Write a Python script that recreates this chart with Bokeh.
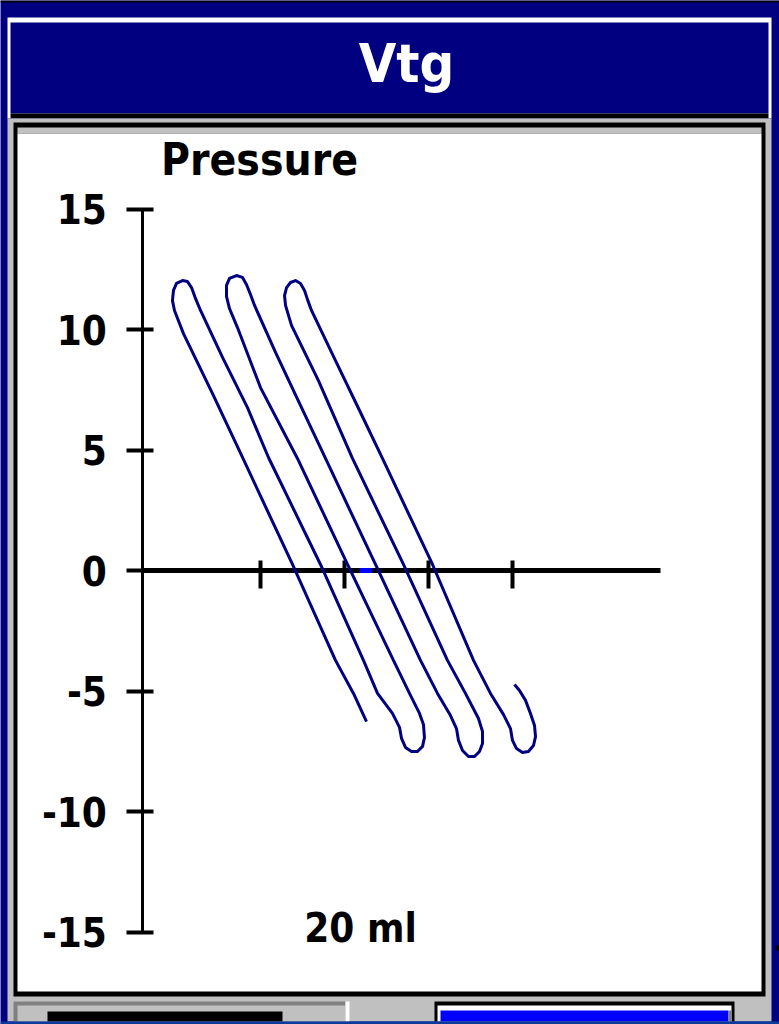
from bokeh.plotting import figure
from bokeh.models import Range1d, LinearAxis, FixedTicker, Label
from bokeh.embed import file_html
from bokeh.resources import INLINE

# ---------------------------------------------------------------
# Pressure / volume trace of the oscillator (volume in ml, pressure)
# ---------------------------------------------------------------
volume_ml = [
    22.62, 21.07, 18.93, 13.81, 7.86, 4.29, 0.83, -0.24,
    -0.48, -0.36, 0.00, 0.71, 1.31, 1.79, 2.26,
    2.86, 5.48, 8.45, 10.95, 17.14, 22.26, 23.93, 25.71,
    26.55, 26.79, 27.26, 27.98, 28.69, 29.29, 29.52, 29.40,
    28.93, 27.74, 25.83, 20.36, 14.40, 10.00, 7.26, 6.31,
    5.95, 5.95, 6.31, 7.14, 7.86, 8.33, 8.81,
    9.29, 11.79, 14.76, 17.74, 23.69, 29.05, 31.07, 32.62,
    33.33, 33.57, 34.05, 34.76, 35.48, 36.07, 36.43, 36.43,
    35.95, 34.40, 32.26, 27.02, 20.95, 16.90, 13.69,
    12.98, 12.86, 13.10, 13.57, 14.17, 14.76, 15.24, 15.60,
    16.07, 18.93, 21.79, 24.52, 30.48, 35.36, 37.38, 38.93,
    39.76, 40.00, 40.48, 41.19, 41.90, 42.50, 42.74, 42.62,
    42.14, 41.55, 40.83, 40.24,
]
pressure = [
    -6.27, -5.10, -3.73, 0.25, 4.69, 7.34, 9.83, 10.79,
    11.20, 11.62, 11.91, 12.03, 11.99, 11.74, 11.29,
    10.79, 8.84, 6.76, 4.69, 0.25, -3.73, -5.10, -5.93,
    -6.51, -6.97, -7.34, -7.51, -7.51, -7.30, -6.93, -6.39,
    -5.93, -5.10, -3.73, 0.25, 4.65, 7.59, 10.08, 10.87,
    11.37, 11.83, 12.12, 12.24, 12.16, 11.87, 11.45,
    11.00, 9.05, 6.85, 4.65, 0.25, -3.73, -5.10, -6.02,
    -6.56, -7.05, -7.47, -7.72, -7.72, -7.51, -7.18, -6.68,
    -6.14, -5.10, -3.73, 0.25, 4.65, 7.88, 10.17,
    11.00, 11.41, 11.74, 11.95, 12.03, 11.91, 11.62, 11.24,
    10.79, 8.71, 6.64, 4.65, 0.25, -3.73, -5.10, -5.98,
    -6.56, -7.05, -7.39, -7.55, -7.51, -7.26, -6.89, -6.43,
    -5.93, -5.39, -4.98, -4.73,
]

pressure_ticks = [-15, -10, -5, 0, 5, 10, 15]
volume_ticks = [10, 20, 30, 40]
cursor_volume = [21.8, 23.3]      # current-volume marker on the zero line

title_text = "Vtg"
pressure_label = "Pressure"
scale_label = "20 ml"

# ---------------------------------------------------------------
# Page geometry (pixels) and styling
# ---------------------------------------------------------------
W, H = 779, 1024
NAVY = "#000080"
SILVER = "#C0C0C0"
SHADOW = "#808080"
FONT = "'DejaVu Sans Condensed', 'DejaVu Sans', sans-serif"

# placement of the pressure/volume coordinate system on the page
VOL_ZERO_PX, PX_PER_ML = 176.0, 8.4
PRES_ZERO_PX, PX_PER_UNIT = 570.0, 24.1
Y_AXIS_AT_ML = -4
X_AXIS_END_ML = 57.6

p = figure(
    width=W, height=H,
    x_range=Range1d(0, W), y_range=Range1d(H, 0),
    x_axis_location=None, y_axis_location=None,
    toolbar_location=None, output_backend="svg",
    min_border=0, outline_line_color=None,
    background_fill_color=NAVY, border_fill_color=NAVY,
)
p.xgrid.visible = False
p.ygrid.visible = False

p.extra_x_ranges = {"vol": Range1d(-VOL_ZERO_PX / PX_PER_ML, (W - VOL_ZERO_PX) / PX_PER_ML)}
p.extra_y_ranges = {"pres": Range1d((PRES_ZERO_PX - H) / PX_PER_UNIT, PRES_ZERO_PX / PX_PER_UNIT)}

# ---- window chrome: (left, right, top, bottom, colour) in page pixels
chrome = [
    (0, 779, 0, 2, "black"),
    (7, 771, 17, 118, "white"),          # title bar highlight
    (10, 768, 22, 113, NAVY),            # title bar
    (10, 768, 113, 118, "black"),
    (7, 771, 118, 1021, SILVER),         # panel
    (13, 765, 122, 996, "black"),        # plot frame
    (17, 761, 127, 133, SILVER),
    (17, 761, 133, 991, "white"),        # plot area
    (13, 345, 1001, 1021, SHADOW),       # left status box
    (17, 345, 1005, 1021, SILVER),
    (345, 349, 1001, 1021, "white"),
    (47, 282, 1011, 1021, "black"),
    (434, 734, 1001, 1021, "black"),     # right status box
    (437, 731, 1005, 1021, "white"),
    (440, 728, 1010, 1021, "#0000FF"),
    (728, 731, 1010, 1021, SHADOW),
    (0, 779, 1021, 1024, "#0A3A9C"),
    (775, 779, 945, 950, "black"),
]
for left, right, top, bottom, color in chrome:
    r = p.quad(left=left, right=right, top=top, bottom=bottom,
               fill_color=color, line_color=None)
    r.level = "image"

# ---- axes crossing at the origin of the pressure scale
axis_style = dict(
    axis_line_color="black",
    major_tick_line_color="black",
    major_tick_line_width=4,
    minor_tick_line_color=None,
)

yax = LinearAxis(
    x_range_name="vol", y_range_name="pres",
    fixed_location=Y_AXIS_AT_ML, bounds=(pressure_ticks[0], pressure_ticks[-1]),
    ticker=FixedTicker(ticks=pressure_ticks),
    axis_line_width=3, major_tick_out=16, major_tick_in=11,
    major_label_standoff=20,
    major_label_overrides={t: str(t) for t in pressure_ticks},
    major_label_text_font=FONT, major_label_text_font_style="bold",
    major_label_text_font_size="40px", major_label_text_color="black",
    **axis_style,
)
p.add_layout(yax, "left")

xax = LinearAxis(
    x_range_name="vol", y_range_name="pres",
    fixed_location=0, bounds=(Y_AXIS_AT_ML, X_AXIS_END_ML),
    ticker=FixedTicker(ticks=volume_ticks),
    axis_line_width=5, major_tick_out=18, major_tick_in=10,
    major_label_overrides={t: "" for t in volume_ticks},
    **axis_style,
)
p.add_layout(xax, "below")
yax.level = "underlay"
xax.level = "underlay"

# ---- the trace itself
p.line(volume_ml, pressure, x_range_name="vol", y_range_name="pres",
       line_color=NAVY, line_width=3, line_join="round")
p.line(cursor_volume, [0, 0], x_range_name="vol", y_range_name="pres",
       line_color="#0000FF", line_width=5)

# ---- texts
p.add_layout(Label(x=406, y=94, text=title_text, text_align="center",
                   text_color="white", text_font=FONT, text_font_style="bold",
                   text_font_size="54px"))
p.add_layout(Label(x=259, y=184, text=pressure_label, text_align="center",
                   text_color="black", text_font=FONT, text_font_style="bold",
                   text_font_size="44px"))
p.add_layout(Label(x=360, y=950, text=scale_label, text_align="center",
                   text_color="black", text_font=FONT, text_font_style="bold",
                   text_font_size="40px"))

open("out.html", "w").write(file_html(p, INLINE))
